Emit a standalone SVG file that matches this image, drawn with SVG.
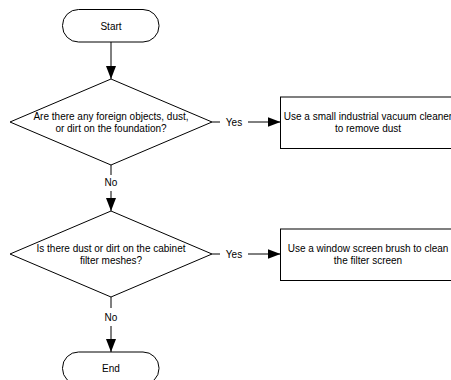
<svg xmlns="http://www.w3.org/2000/svg" width="451" height="380" viewBox="0 0 451 380">
<style>
  .shape { fill: #ffffff; stroke: #000000; stroke-width: 1; }
  .conn { fill: none; stroke: #000000; stroke-width: 1; }
  text { font-family: "Liberation Sans", Arial, sans-serif; font-size: 10px; fill: #000000; text-anchor: middle; }
</style>
<defs>
  <marker id="arrow" markerUnits="userSpaceOnUse" markerWidth="13" markerHeight="10" refX="13" refY="5" orient="auto">
    <path d="M0,0 L13,5 L0,10 z" fill="#000000"/>
  </marker>
</defs>
<rect width="451" height="380" fill="#ffffff"/>
<g id="connectors">
  <line class="conn" x1="111" y1="42" x2="111" y2="79" marker-end="url(#arrow)"/>
  <line class="conn" x1="212" y1="122" x2="220" y2="122"/>
  <line class="conn" x1="248" y1="122" x2="280.5" y2="122" marker-end="url(#arrow)"/>
  <line class="conn" x1="111" y1="165" x2="111" y2="175"/>
  <line class="conn" x1="111" y1="191" x2="111" y2="211" marker-end="url(#arrow)"/>
  <line class="conn" x1="212" y1="254" x2="220" y2="254"/>
  <line class="conn" x1="248" y1="254" x2="280.5" y2="254" marker-end="url(#arrow)"/>
  <line class="conn" x1="111" y1="297" x2="111" y2="308"/>
  <line class="conn" x1="111" y1="326" x2="111" y2="352" marker-end="url(#arrow)"/>
  <text x="234" y="125.5">Yes</text>
  <text x="111" y="186">No</text>
  <text x="234" y="257.5">Yes</text>
  <text x="111" y="320.5">No</text>
</g>
<g id="start">
  <rect class="shape" x="62.5" y="9.5" width="96.5" height="32.5" rx="16" ry="16"/>
  <text x="111" y="29.5">Start</text>
</g>
<g id="decision1">
  <polygon class="shape" points="111,79 212,122 111,165 10,122"/>
  <text x="111" y="119.5">Are there any foreign objects, dust,</text>
  <text x="111" y="131.5">or dirt on the foundation?</text>
</g>
<g id="process1">
  <rect class="shape" x="280.5" y="97" width="176" height="51.5"/>
  <text x="368" y="119.5">Use a small industrial vacuum cleaner</text>
  <text x="368" y="131.5">to remove dust</text>
</g>
<g id="decision2">
  <polygon class="shape" points="111,211 212,254 111,297 10,254"/>
  <text x="111" y="251.5">Is there dust or dirt on the cabinet</text>
  <text x="111" y="263.5">filter meshes?</text>
</g>
<g id="process2">
  <rect class="shape" x="280.5" y="229" width="176" height="51.5"/>
  <text x="368" y="251.5">Use a window screen brush to clean</text>
  <text x="368" y="263.5">the filter screen</text>
</g>
<g id="end">
  <rect class="shape" x="62.5" y="352" width="96.5" height="32.5" rx="16" ry="16"/>
  <text x="111" y="372">End</text>
</g>
</svg>
